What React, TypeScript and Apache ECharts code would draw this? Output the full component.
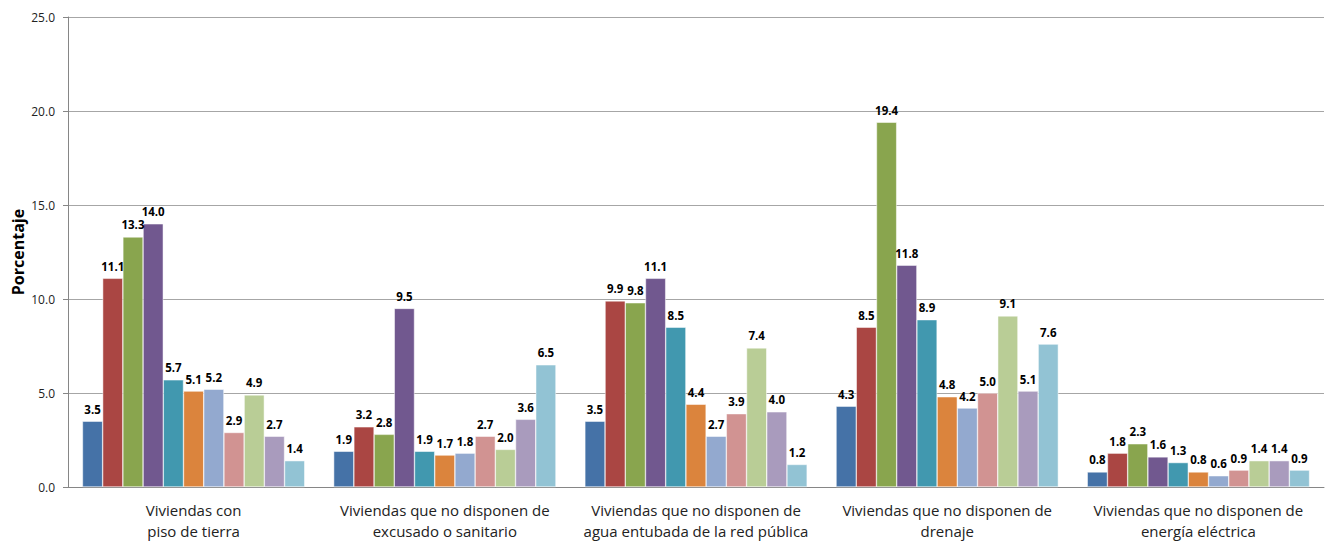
import React, { useEffect, useRef } from "react";
import * as echarts from "echarts";

const categories = [
  "Viviendas con\npiso de tierra",
  "Viviendas que no disponen de\nexcusado o sanitario",
  "Viviendas que no disponen de\nagua entubada de la red pública",
  "Viviendas que no disponen de\ndrenaje",
  "Viviendas que no disponen de\nenergía eléctrica",
];

const seriesNames = [
  "Serie 1", "Serie 2", "Serie 3", "Serie 4", "Serie 5", "Serie 6",
  "Serie 7", "Serie 8", "Serie 9", "Serie 10", "Serie 11",
];

const s1 = [3.5, 1.9, 3.5, 4.3, 0.8];
const s2 = [11.1, 3.2, 9.9, 8.5, 1.8];
const s3 = [13.3, 2.8, 9.8, 19.4, 2.3];
const s4 = [14.0, 9.5, 11.1, 11.8, 1.6];
const s5 = [5.7, 1.9, 8.5, 8.9, 1.3];
const s6 = [5.1, 1.7, 4.4, 4.8, 0.8];
const s7 = [5.2, 1.8, 2.7, 4.2, 0.6];
const s8 = [2.9, 2.7, 3.9, 5.0, 0.9];
const s9 = [4.9, 2.0, 7.4, 9.1, 1.4];
const s10 = [2.7, 3.6, 4.0, 5.1, 1.4];
const s11 = [1.4, 6.5, 1.2, 7.6, 0.9];

const seriesValues = [s1, s2, s3, s4, s5, s6, s7, s8, s9, s10, s11];

const colors = [
  "#4572A7", "#AA4643", "#89A54E", "#71588F", "#4198AF", "#DB843D",
  "#93A9CF", "#D19392", "#B9CD96", "#A99BBD", "#92C3D4",
];

const FONT = "'Open Sans', 'Noto Sans', sans-serif";

export default function App() {
  const ref = useRef<HTMLDivElement>(null);
  useEffect(() => {
    if (!ref.current) return;
    const chart = echarts.init(ref.current, null, { renderer: "svg" });
    chart.setOption({
      animation: false,
      color: colors,
      grid: { left: 68, right: 1, top: 17, bottom: 54, outerBoundsMode: "none", containLabel: false },
      xAxis: {
        type: "category",
        data: categories,
        axisLine: { lineStyle: { color: "#868686" } },
        axisTick: { show: false },
        axisLabel: {
          fontFamily: FONT,
          fontSize: 15,
          color: "#222",
          lineHeight: 21,
          margin: 12,
          interval: 0,
        },
      },
      yAxis: {
        type: "value",
        min: 0,
        max: 25,
        interval: 5,
        name: "Porcentaje",
        nameLocation: "middle",
        nameGap: 42,
        nameMoveOverlap: false,
        nameTextStyle: { fontFamily: FONT, fontSize: 16, fontWeight: "bold", color: "#000" },
        axisLine: { show: true, lineStyle: { color: "#868686" } },
        axisTick: { show: true, length: 5, lineStyle: { color: "#868686" } },
        splitLine: { lineStyle: { color: "#a6a6a6" } },
        axisLabel: {
          fontFamily: FONT,
          fontSize: 12,
          color: "#222",
          margin: 13,
          formatter: (v: number) => v.toFixed(1),
        },
      },
      series: seriesValues.map((data, i) => ({
        type: "bar",
        name: seriesNames[i],
        data,
        barGap: "0%",
        barCategoryGap: "11.5%",
        itemStyle: { borderColor: "#ffffff", borderWidth: 0.5 },
        label: {
          show: true,
          position: "top",
          distance: 6,
          fontFamily: FONT,
          fontSize: 11.5,
          fontWeight: "bold",
          color: "#000",
          formatter: (p: any) => Number(p.value).toFixed(1),
        },
      })),
    });
    return () => chart.dispose();
  }, []);
  return (
    <div
      ref={ref}
      style={{ position: "fixed", left: 0, top: 0, width: 1325, height: 541, background: "#fff" }}
    />
  );
}
